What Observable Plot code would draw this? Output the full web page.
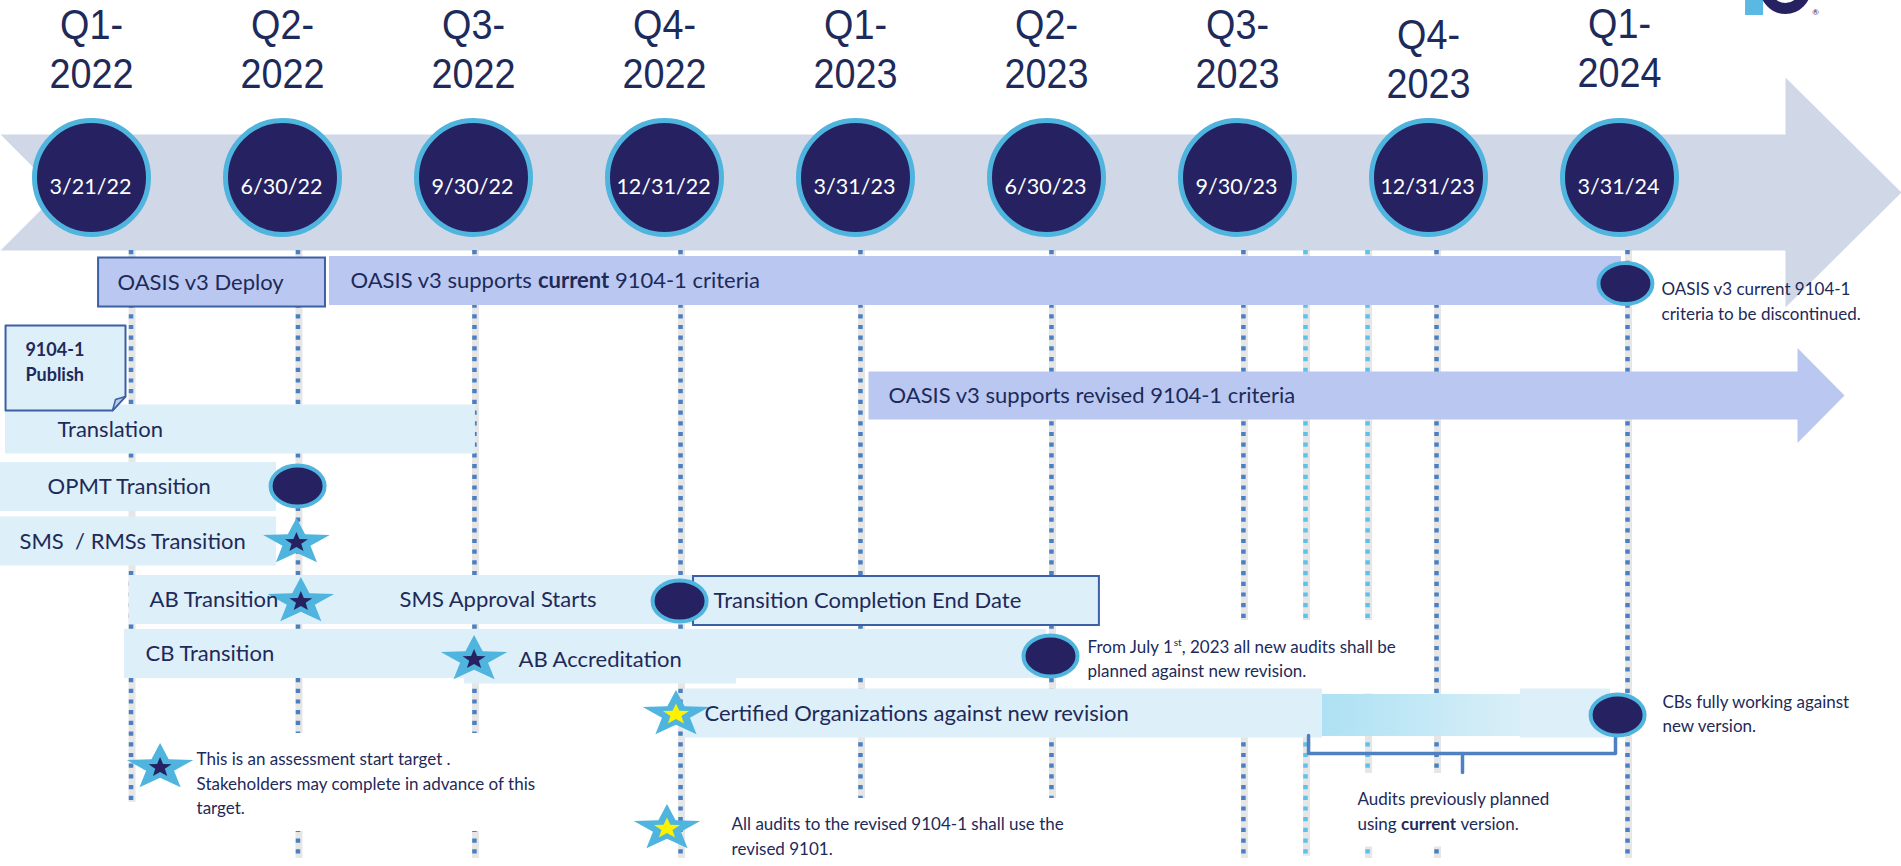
<!DOCTYPE html>
<html>
<head>
<meta charset="utf-8">
<script src="https://cdn.jsdelivr.net/npm/d3@7"></script>
<script src="https://cdn.jsdelivr.net/npm/@observablehq/plot@0.6"></script>
<style>
  html, body { margin: 0; padding: 0; background: #ffffff; overflow: hidden; }
  #chart svg { display: block; }
</style>
</head>
<body>
<div id="chart"></div>
<script>
// ---------------- DATA (x in quarters after the Q1-2022 milestone, y in lanes) ----------------
const quarterNames = ["Q1-", "Q2-", "Q3-", "Q4-", "Q1-", "Q2-", "Q3-", "Q4-", "Q1-"];
const quarterYears = ["2022", "2022", "2022", "2022", "2023", "2023", "2023", "2023", "2024"];
const quarterLabelLane = [-4.261, -4.261, -4.261, -4.261, -4.261, -4.261, -4.261, -4.102, -4.279];
const milestoneDates = ["3/21/22", "6/30/22", "9/30/22", "12/31/22", "3/31/23", "6/30/23", "9/30/23", "12/31/23", "3/31/24"];
const milestoneLane = -1.831;

const guideQ    = [0.207, 1.081, 2.005, 3.084, 4.026, 5.026, 6.031, 6.356, 6.681, 7.042, 8.042];
const guideKind = ["plan", "plan", "plan", "plan", "plan", "plan", "plan", "audit", "audit", "plan", "plan"];
const guideEnd  = [9.17, 10.16, 10.16, 10.16, 10.16, 10.16, 10.16, 10.12, 10.16, 10.16, 10.16];

const timelineArrow = {start: -0.4764, notch: -0.173, head: 8.869, tip: 9.4764, top: -2.588, bottom: -0.546, mid: -1.567, headTop: -3.592, headBottom: 0.458};

const bars = [
  {q1: 0.037, q2: 1.225, lane: 0.018, kind: "systemBox"},
  {q1: 1.246, q2: 8.010, lane: -0.009, kind: "system"},
  {q1: -0.450, q2: 2.010, lane: 2.606, kind: "task"},
  {q1: -0.476, q2: 0.969, lane: 3.618, kind: "task"},
  {q1: -0.476, q2: 0.969, lane: 4.577, kind: "task"},
  {q1: 0.199, q2: 3.152, lane: 5.607, kind: "task"},
  {q1: 0.173, q2: 5.000, lane: 6.558, kind: "task"},
  {q1: 1.953, q2: 3.377, lane: 6.655, kind: "task"},
  {q1: 3.099, q2: 6.445, lane: 7.606, kind: "task"},
  {q1: 6.445, q2: 7.482, lane: 7.640, kind: "fade"},
  {q1: 7.482, q2: 7.953, lane: 7.606, kind: "task"},
  {q1: 3.152, q2: 5.277, lane: 5.625, kind: "taskBox"}
];
const revisedArrow = {q1: 4.068, q2: 8.932, tip: 9.178, lane: 2.007};
const publishNote = {q1: -0.450, q2: 0.178, lane1: 0.775, lane2: 2.271};

const barLabels = [
  {q: 0.136, lane: 0.018, text: "OASIS v3 Deploy"},
  {q: 1.356, lane: -0.009, text: "OASIS v3 supports **current** 9104-1 criteria"},
  {q: 4.173, lane: 2.007, text: "OASIS v3 supports revised 9104-1 criteria"},
  {q: -0.178, lane: 2.606, text: "Translation"},
  {q: -0.230, lane: 3.618, text: "OPMT Transition"},
  {q: -0.377, lane: 4.577, text: "SMS\u00a0 / RMSs Transition"},
  {q: 0.304, lane: 5.607, text: "AB Transition"},
  {q: 1.613, lane: 5.607, text: "SMS Approval Starts"},
  {q: 3.257, lane: 5.625, text: "Transition Completion End Date"},
  {q: 0.283, lane: 6.558, text: "CB Transition"},
  {q: 2.236, lane: 6.655, text: "AB Accreditation"},
  {q: 3.209, lane: 7.606, text: "Certified Organizations against new revision"}
];
const publishLabel = [{q: -0.346, lane: 1.303, lines: ["**9104-1**", "**Publish**"]}];

const endDots = [
  {q: 8.031, lane: 0.035},
  {q: 1.079, lane: 3.600},
  {q: 3.079, lane: 5.625},
  {q: 5.021, lane: 6.593},
  {q: 7.990, lane: 7.632}
];
const stars = [
  {q: 1.073, lane: 4.595, kind: "target"},
  {q: 1.096, lane: 5.634, kind: "target"},
  {q: 2.003, lane: 6.655, kind: "target"},
  {q: 3.060, lane: 7.623, kind: "revised"},
  {q: 0.359, lane: 8.556, kind: "target"},
  {q: 3.013, lane: 9.630, kind: "revised"}
];
const bracket = {q1: 6.372, q2: 7.979, top: 7.993, lane: 8.310, tickQ: 7.178, tickLane: 8.644};

const notes = [
  {q: 8.220, lane: 0.246, opaque: false, lines: ["OASIS v3 current 9104-1", "criteria to be discontinued."]},
  {q: 5.215, lane: 6.532, opaque: true, lines: ["From July 1^st^, 2023 all new audits shall be", "planned against new revision."]},
  {q: 8.225, lane: 7.500, opaque: false, lines: ["CBs fully working against", "new version."]},
  {q: 6.628, lane: 9.225, opaque: true, lines: ["Audits previously planned", "using **current** version."]},
  {q: 0.550, lane: 8.521, opaque: true, lines: ["This is an assessment start target .", "Stakeholders may complete in advance of this", "target."]},
  {q: 3.351, lane: 9.665, opaque: true, lines: ["All audits to the revised 9104-1 shall use the", "revised 9101."]}
];
const brand = {rectQ1: 8.660, rectQ2: 8.754, rectLane1: -4.947, rectLane2: -4.683, ringQ: 8.869, ringLane: -5.158, markQ: 9.026, markLane: -4.736};

// ---------------- LAYOUT ----------------
const W = 1901, H = 866;
const Q0 = 91, QW = 191, L0 = 281, LW = 56.8;
const NAVY = "#262262", RING = "#4fb4de", BAND = "#d0d8e7", SYS = "#bac8f1", TASK = "#ddeff8",
      EDGE = "#3c5fa6", INK = "#1d2a5a", GUIDE = "#4a7fc2", GUIDE2 = "#5ec1e7", YELLOW = "#fff200";
const FONT = "Lato, 'Open Sans', sans-serif";
const HEAD_FONT = "'Liberation Sans', Arial, sans-serif";
const BH = 24.5 / LW;
const YEAR_GAP = 49 / LW;

const ctx2d = document.createElement("canvas").getContext("2d");
function textWidth(t, size, bold) {
  ctx2d.font = `${bold ? "bold " : ""}${size}px Lato`;
  return ctx2d.measureText(t).width;
}
function parseRich(s) {
  const out = [], re = /\*\*(.+?)\*\*|\^(.+?)\^|([^*^]+)/g;
  let m;
  while ((m = re.exec(s))) {
    if (m[1]) out.push({t: m[1], b: true});
    else if (m[2]) out.push({t: m[2], sup: true});
    else out.push({t: m[3]});
  }
  return out;
}
function layoutText(items, size, gap) {
  const segs = [], boxes = [];
  for (const it of items) {
    const lines = it.lines ?? [it.text];
    let maxW = 0;
    lines.forEach((line, i) => {
      let off = 0;
      for (const p of parseRich(line)) {
        const sz = p.sup ? size * 0.6 : size;
        const lead = p.t.match(/^\s*/)[0];
        const shown = p.t.trimStart();
        if (shown) segs.push({
          x: it.q + (off + (lead ? textWidth(lead, sz, p.b) : 0)) / QW,
          y: it.lane + (i * gap - (p.sup ? size * 0.4 : 0)) / LW,
          t: shown, bold: !!p.b, size: sz
        });
        off += textWidth(p.t, sz, p.b);
      }
      maxW = Math.max(maxW, off);
    });
    if (it.opaque) boxes.push({
      x1: it.q - 10 / QW, x2: it.q + (maxW + 10) / QW,
      y1: it.lane - 32 / LW, y2: it.lane + ((lines.length - 1) * gap + 17) / LW
    });
  }
  return {segs, boxes};
}
function textMarks(segs, anchor) {
  const base = {x: "x", y: "y", text: "t", fontSize: d => d.size, textAnchor: "start", lineAnchor: anchor, fill: INK, fontFamily: FONT};
  return [
    Plot.text(segs.filter(d => !d.bold), base),
    Plot.text(segs.filter(d => d.bold), {...base, fontWeight: "bold"})
  ];
}

const barText = layoutText(barLabels, 22, 0);
const noteText = layoutText(notes, 17, 24.5);
const pubText = layoutText(publishLabel, 18, 25);

const A = timelineArrow;
const bandPts = [
  {q: A.start, lane: A.top}, {q: A.head, lane: A.top}, {q: A.head, lane: A.headTop}, {q: A.tip, lane: A.mid},
  {q: A.head, lane: A.headBottom}, {q: A.head, lane: A.bottom}, {q: A.start, lane: A.bottom}, {q: A.notch, lane: A.mid}
];
const R = revisedArrow, rh = 24 / LW, RH = 47.5 / LW;
const revisedPts = [
  {q: R.q1, lane: R.lane - rh}, {q: R.q2, lane: R.lane - rh}, {q: R.q2, lane: R.lane - RH}, {q: R.tip, lane: R.lane},
  {q: R.q2, lane: R.lane + RH}, {q: R.q2, lane: R.lane + rh}, {q: R.q1, lane: R.lane + rh}
];
const P = publishNote;
const pubPts = [
  {q: P.q1, lane: P.lane1}, {q: P.q2, lane: P.lane1}, {q: P.q2, lane: P.lane2 - 14 / LW},
  {q: P.q2 - 13 / QW, lane: P.lane2}, {q: P.q1, lane: P.lane2}
];
const foldPts = [
  {q: P.q2, lane: P.lane2 - 14 / LW}, {q: P.q2 - 10 / QW, lane: P.lane2 - 11 / LW}, {q: P.q2 - 13 / QW, lane: P.lane2}
];
const B = bracket;
const bracketPts = [{q: B.q1, lane: B.top}, {q: B.q1, lane: B.lane}, {q: B.q2, lane: B.lane}, {q: B.q2, lane: B.top}];
const tickPts = [{q: B.tickQ, lane: B.lane}, {q: B.tickQ, lane: B.tickLane}];

const guides = guideQ.map((q, i) => ({q, kind: guideKind[i], end: guideEnd[i]}));

function starSymbol(sx, inner) {
  return {draw(ctx, size) {
    const r = Math.sqrt(size / Math.PI);
    for (let i = 0; i < 10; ++i) {
      const a = -Math.PI / 2 + i * Math.PI / 5, rr = i % 2 ? r * inner : r;
      const x = Math.cos(a) * rr * sx, y = Math.sin(a) * rr;
      i ? ctx.lineTo(x, y) : ctx.moveTo(x, y);
    }
    ctx.closePath();
  }};
}
function ellipseSymbol(sx) {
  return {draw(ctx, size) {
    const ry = Math.sqrt(size / Math.PI), rx = ry * sx, k = 0.5523;
    ctx.moveTo(rx, 0);
    ctx.bezierCurveTo(rx, ry * k, rx * k, ry, 0, ry);
    ctx.bezierCurveTo(-rx * k, ry, -rx, ry * k, -rx, 0);
    ctx.bezierCurveTo(-rx, -ry * k, -rx * k, -ry, 0, -ry);
    ctx.bezierCurveTo(rx * k, -ry, rx, -ry * k, rx, 0);
    ctx.closePath();
  }};
}
const rectOpts = {x1: "q1", x2: "q2", y1: d => d.lane - BH, y2: d => d.lane + BH};
const headOpts = {fill: INK, fontSize: 42, fontFamily: HEAD_FONT, lineAnchor: "bottom"};

const svg = Plot.plot({
  width: W, height: H,
  marginTop: 0, marginRight: 0, marginBottom: 0, marginLeft: 0,
  style: {background: "#ffffff", overflow: "visible"},
  x: {type: "linear", domain: [-Q0 / QW, (W - Q0) / QW], range: [0, W], axis: null},
  y: {type: "linear", domain: [-L0 / LW, (H - L0) / LW], range: [0, H], axis: null},
  marks: [
    // timeline arrow band
    Plot.line(bandPts, {x: "q", y: "lane", fill: BAND, stroke: "none"}),
    // brand fragment
    Plot.rect([brand], {x1: "rectQ1", x2: "rectQ2", y1: "rectLane1", y2: "rectLane2", fill: "#5ab9e2"}),
    Plot.dot([brand], {x: "ringQ", y: "ringLane", r: 20, fill: "none", stroke: NAVY, strokeWidth: 11}),
    Plot.text([brand], {x: "markQ", y: "markLane", text: () => "®", fontSize: 8, fill: NAVY, fontFamily: FONT}),
    // dotted guide lines
    Plot.ruleX(guides, {x: "q", y1: A.bottom, y2: "end", stroke: "#8f8f8f", strokeOpacity: 0.22, strokeWidth: 7, dx: 1}),
    Plot.ruleX(guides.filter(d => d.kind === "plan"), {x: "q", y1: A.bottom, y2: "end", stroke: GUIDE, strokeWidth: 4.5, strokeDasharray: "4.2,6.5"}),
    Plot.ruleX(guides.filter(d => d.kind === "audit"), {x: "q", y1: A.bottom, y2: "end", stroke: GUIDE2, strokeWidth: 4.5, strokeDasharray: "4.2,6.5"}),
    // opaque text boxes
    Plot.rect(noteText.boxes, {x1: "x1", x2: "x2", y1: "y1", y2: "y2", fill: "#ffffff"}),
    // bars
    Plot.rect(bars.filter(d => d.kind === "task"), {...rectOpts, fill: TASK}),
    Plot.rect(bars.filter(d => d.kind === "fade"), {...rectOpts, y1: d => d.lane - 21 / LW, y2: d => d.lane + 21 / LW, fill: "url(#fadeGrad)"}),
    Plot.rect(bars.filter(d => d.kind === "system"), {...rectOpts, fill: SYS}),
    Plot.rect(bars.filter(d => d.kind === "systemBox"), {...rectOpts, fill: SYS, stroke: EDGE, strokeWidth: 2}),
    Plot.rect(bars.filter(d => d.kind === "taskBox"), {...rectOpts, fill: TASK, stroke: EDGE, strokeWidth: 2}),
    Plot.line(revisedPts, {x: "q", y: "lane", fill: SYS, stroke: "none"}),
    // publish note
    Plot.line(pubPts, {x: "q", y: "lane", fill: TASK, stroke: EDGE, strokeWidth: 2, curve: "linear-closed"}),
    Plot.line(foldPts, {x: "q", y: "lane", fill: "#b7cde2", stroke: EDGE, strokeWidth: 1.5, curve: "linear-closed"}),
    // bracket
    Plot.line(bracketPts, {x: "q", y: "lane", stroke: "#4f80c1", strokeWidth: 3.5, strokeLinejoin: "round"}),
    Plot.line(tickPts, {x: "q", y: "lane", stroke: "#4f80c1", strokeWidth: 3.5, strokeLinecap: "round"}),
    // end-point ellipses
    Plot.dot(endDots, {x: "q", y: "lane", r: 20.5, symbol: ellipseSymbol(1.317), fill: NAVY, stroke: RING, strokeWidth: 4}),
    // stars
    Plot.dot(stars, {x: "q", y: "lane", r: 24.5, symbol: starSymbol(35 / 24.5, 0.42), fill: RING, stroke: "none"}),
    Plot.dot(stars.filter(d => d.kind === "target"), {x: "q", y: "lane", r: 10.5, symbol: starSymbol(1.15, 0.42), fill: NAVY, stroke: "none"}),
    Plot.dot(stars.filter(d => d.kind === "revised"), {x: "q", y: "lane", r: 11, symbol: starSymbol(1.25, 0.42), fill: YELLOW, stroke: "none"}),
    // milestone circles
    Plot.dot(milestoneDates, {x: (d, i) => i, y: () => milestoneLane, r: 57, fill: NAVY, stroke: RING, strokeWidth: 5}),
    Plot.text(milestoneDates, {x: (d, i) => i, y: () => milestoneLane, text: d => d, dy: 10, dx: -1, fill: "#ffffff", fontSize: 21.5, fontFamily: FONT}),
    // quarter headers
    Plot.text(quarterNames, {x: (d, i) => i, y: (d, i) => quarterLabelLane[i], text: d => d, ...headOpts}),
    Plot.text(quarterYears, {x: (d, i) => i, y: (d, i) => quarterLabelLane[i] + YEAR_GAP, text: d => d, ...headOpts}),
    // labels
    ...textMarks(barText.segs, "middle"),
    ...textMarks(noteText.segs, "bottom"),
    ...textMarks(pubText.segs, "bottom")
  ]
});

// narrow the quarter headers (condensed heading type)
const headSet = new Set([...quarterNames, ...quarterYears]);
svg.querySelectorAll("text").forEach(el => {
  if (el.getAttribute("font-size") === "42" || (headSet.has(el.textContent) && el.closest("g")?.getAttribute("font-size") === "42")) {
    const t = el.getAttribute("transform") || "";
    const x = +(el.getAttribute("x") || 0);
    el.setAttribute("transform", `${t} translate(${x},0) scale(0.9,1) translate(${-x},0)`);
  }
});

const defs = document.createElementNS("http://www.w3.org/2000/svg", "defs");
defs.innerHTML = '<linearGradient id="fadeGrad" x1="0" x2="1" y1="0" y2="0"><stop offset="0" stop-color="#ade1f3"/><stop offset="1" stop-color="#d9eff8"/></linearGradient>';
svg.prepend(defs);
document.getElementById("chart").appendChild(svg);
</script>
</body>
</html>
